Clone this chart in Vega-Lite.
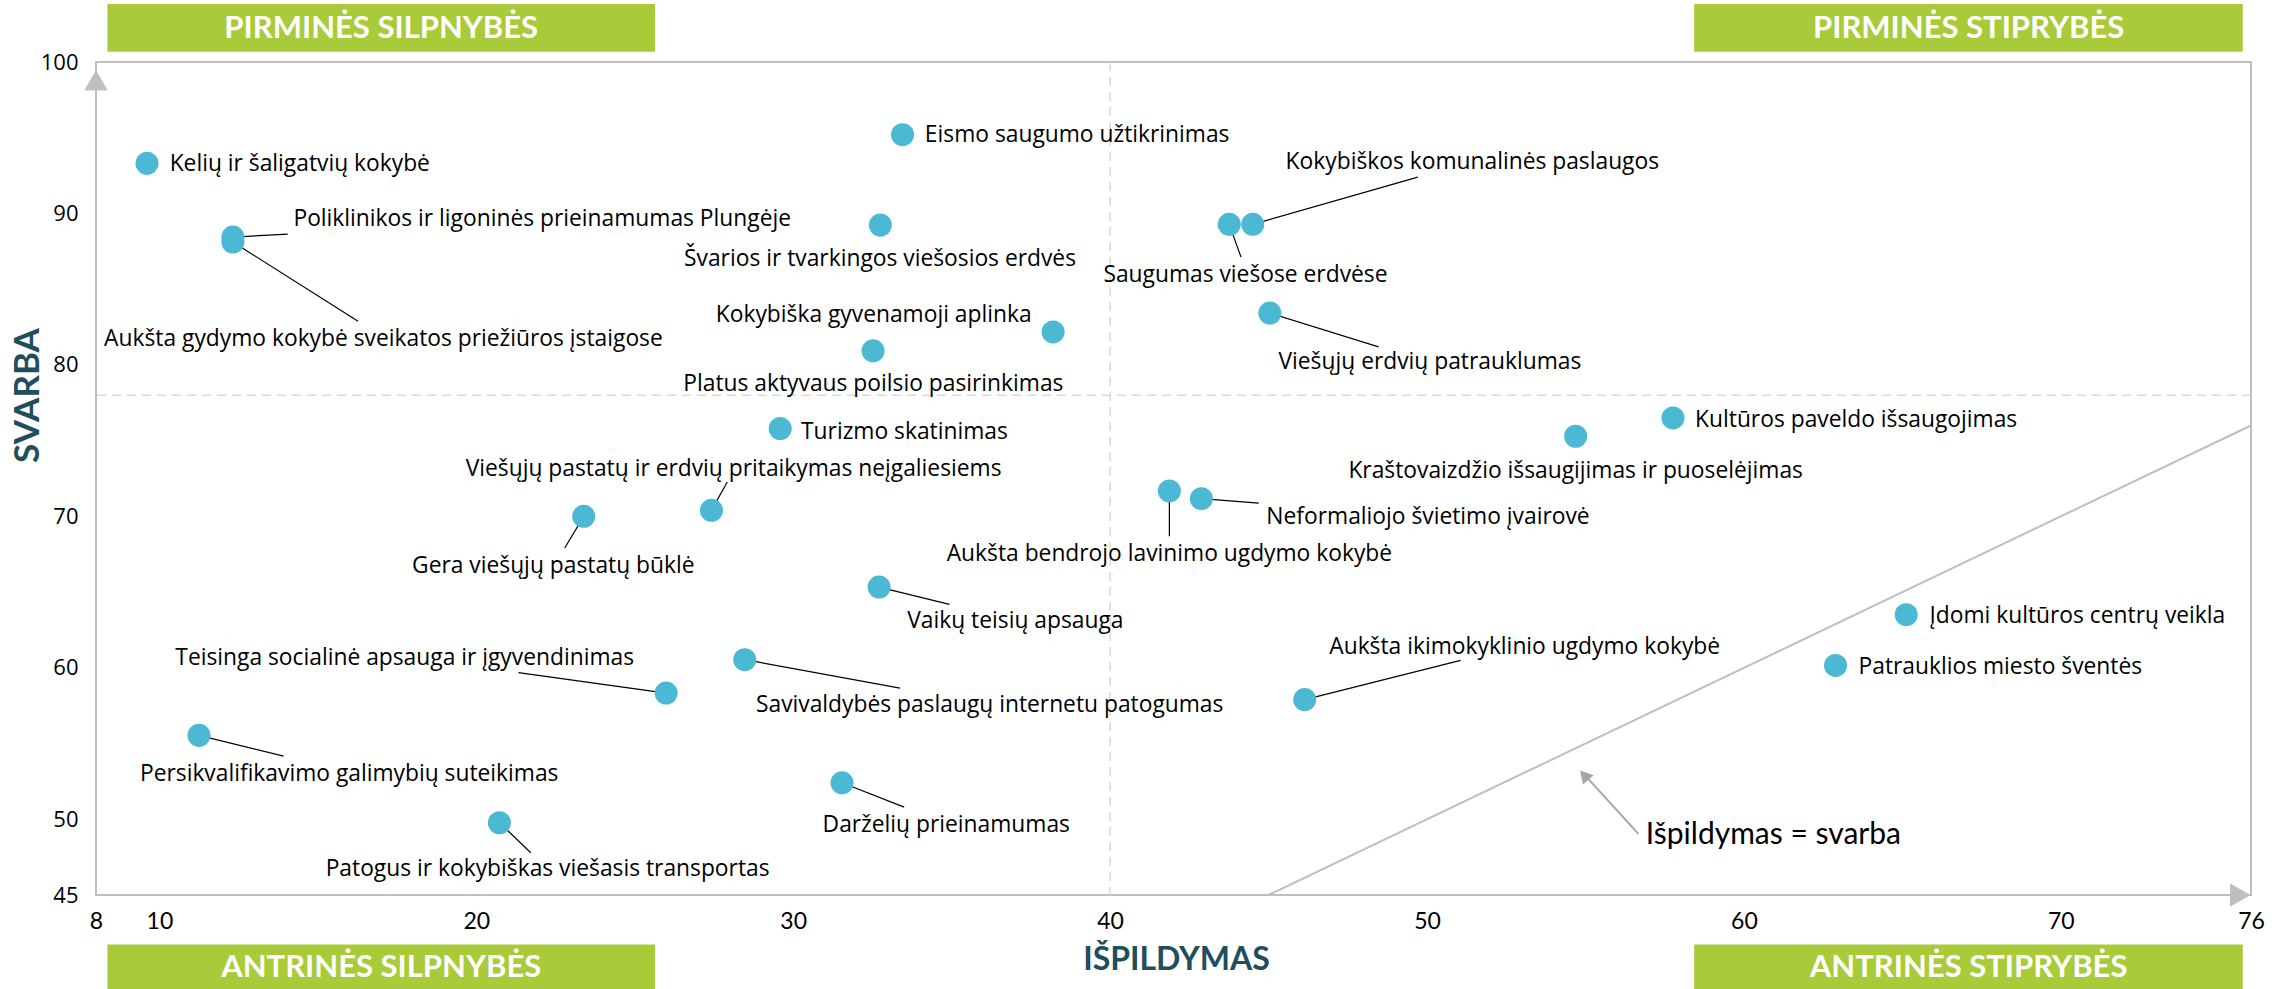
{
  "$schema": "https://vega.github.io/schema/vega-lite/v6.json",
  "width": 2155,
  "height": 833,
  "autosize": {"type": "none"},
  "padding": {"left": 96, "top": 62, "right": 39, "bottom": 94},
  "background": "white",
  "config": {
    "view": {"stroke": "#BFBFBF", "strokeWidth": 2},
    "axis": {"grid": false, "ticks": false, "domain": false}
  },
  "datasets": {
    "one": [{}],
    "pts": [
      {"name": "Kelių ir šaligatvių kokybė", "isp": 9.61, "sva": 93.31, "lx": 14.43, "ly": 93.29},
      {"name": "Poliklinikos ir ligoninės prieinamumas Plungėje", "isp": 12.32, "sva": 88.44, "lx": 22.08, "ly": 89.61, "ex": 14.05, "ey": 88.64},
      {"name": "Aukšta gydymo kokybė sveikatos priežiūros įstaigose", "isp": 12.32, "sva": 88.11, "lx": 17.07, "ly": 81.68, "ex": 16.27, "ey": 82.89},
      {"name": "Eismo saugumo užtikrinimas", "isp": 33.45, "sva": 95.2, "lx": 38.96, "ly": 95.18},
      {"name": "Švarios ir tvarkingos viešosios erdvės", "isp": 32.75, "sva": 89.23, "lx": 32.74, "ly": 87.01},
      {"name": "Kokybiškos komunalinės paslaugos", "isp": 44.5, "sva": 89.28, "lx": 51.43, "ly": 93.41, "ex": 49.71, "ey": 92.4},
      {"name": "Saugumas viešose erdvėse", "isp": 43.76, "sva": 89.28, "lx": 44.27, "ly": 85.93, "ex": 44.13, "ey": 87.12},
      {"name": "Viešųjų erdvių patrauklumas", "isp": 45.04, "sva": 83.42, "lx": 50.09, "ly": 80.2, "ex": 48.47, "ey": 81.19},
      {"name": "Kokybiška gyvenamoji aplinka", "isp": 38.2, "sva": 82.18, "lx": 32.54, "ly": 83.28},
      {"name": "Platus aktyvaus poilsio pasirinkimas", "isp": 32.52, "sva": 80.93, "lx": 32.53, "ly": 78.73},
      {"name": "Kultūros paveldo išsaugojimas", "isp": 57.76, "sva": 76.5, "lx": 63.54, "ly": 76.39},
      {"name": "Kraštovaizdžio išsaugijimas ir puoselėjimas", "isp": 54.69, "sva": 75.29, "lx": 54.69, "ly": 73.0},
      {"name": "Turizmo skatinimas", "isp": 29.59, "sva": 75.8, "lx": 33.51, "ly": 75.57},
      {"name": "Viešųjų pastatų ir erdvių pritaikymas neįgaliesiems", "isp": 27.42, "sva": 70.4, "lx": 28.12, "ly": 73.16, "ex": 27.92, "ey": 72.27},
      {"name": "Gera viešųjų pastatų būklė", "isp": 23.39, "sva": 70.0, "lx": 22.43, "ly": 66.7, "ex": 22.79, "ey": 67.91},
      {"name": "Aukšta bendrojo lavinimo ugdymo kokybė", "isp": 41.87, "sva": 71.68, "lx": 41.87, "ly": 67.5, "ex": 41.87, "ey": 68.68},
      {"name": "Neformaliojo švietimo įvairovė", "isp": 42.88, "sva": 71.17, "lx": 50.03, "ly": 69.96, "ex": 44.69, "ey": 70.88},
      {"name": "Vaikų teisių apsauga", "isp": 32.71, "sva": 65.33, "lx": 37.01, "ly": 63.09, "ex": 34.93, "ey": 64.19},
      {"name": "Įdomi kultūros centrų veikla", "isp": 65.12, "sva": 63.51, "lx": 70.52, "ly": 63.42},
      {"name": "Patrauklios miesto šventės", "isp": 62.89, "sva": 60.16, "lx": 68.09, "ly": 60.05},
      {"name": "Aukšta ikimokyklinio ugdymo kokybė", "isp": 46.14, "sva": 57.9, "lx": 53.08, "ly": 61.37, "ex": 51.06, "ey": 60.49},
      {"name": "Teisinga socialinė apsauga ir įgyvendinimas", "isp": 25.99, "sva": 58.33, "lx": 17.74, "ly": 60.67, "ex": 21.33, "ey": 59.68},
      {"name": "Savivaldybės paslaugų internetu patogumas", "isp": 28.47, "sva": 60.54, "lx": 36.2, "ly": 57.52, "ex": 33.37, "ey": 58.66},
      {"name": "Persikvalifikavimo galimybių suteikimas", "isp": 11.25, "sva": 55.54, "lx": 15.99, "ly": 53.01, "ex": 13.92, "ey": 54.17},
      {"name": "Darželių prieinamumas", "isp": 31.54, "sva": 52.41, "lx": 34.83, "ly": 49.59, "ex": 33.5, "ey": 50.8},
      {"name": "Patogus ir kokybiškas viešasis transportas", "isp": 20.73, "sva": 49.77, "lx": 22.25, "ly": 46.73, "ex": 21.72, "ey": 47.79}
    ],
    "boxes": [
      {"label": "PIRMINĖS SILPNYBĖS", "x1": 8.36, "x2": 25.64, "y1": 100.68, "y2": 103.83, "tx": 17.0, "ty": 102.15},
      {"label": "PIRMINĖS STIPRYBĖS", "x1": 58.43, "x2": 75.74, "y1": 100.68, "y2": 103.83, "tx": 67.09, "ty": 102.15},
      {"label": "ANTRINĖS SILPNYBĖS", "x1": 8.36, "x2": 25.64, "y1": 38.76, "y2": 41.73, "tx": 17.0, "ty": 40.2},
      {"label": "ANTRINĖS STIPRYBĖS", "x1": 58.43, "x2": 75.74, "y1": 38.76, "y2": 41.73, "tx": 67.09, "ty": 40.2}
    ]
  },
  "layer": [
    {
      "data": {"name": "one"},
      "mark": {"type": "rule", "color": "#D9D9D9", "strokeDash": [9, 6], "strokeWidth": 1.5},
      "encoding": {"x": {"datum": 40, "type": "quantitative"}}
    },
    {
      "data": {"name": "one"},
      "mark": {"type": "rule", "color": "#D9D9D9", "strokeDash": [9, 6], "strokeWidth": 1.5},
      "encoding": {"y": {"datum": 78, "type": "quantitative"}}
    },
    {
      "data": {"name": "one"},
      "mark": {"type": "rule", "color": "#BFBFBF", "strokeWidth": 2},
      "encoding": {
        "x": {"datum": 45, "type": "quantitative"},
        "y": {"datum": 45, "type": "quantitative"},
        "x2": {"datum": 76},
        "y2": {"datum": 76}
      }
    },
    {
      "data": {"name": "pts"},
      "transform": [{"filter": "isValid(datum.ex)"}],
      "mark": {"type": "rule", "color": "#000000", "strokeWidth": 1.2},
      "encoding": {
        "x": {"field": "isp", "type": "quantitative"},
        "y": {"field": "sva", "type": "quantitative"},
        "x2": {"field": "ex"},
        "y2": {"field": "ey"}
      }
    },
    {
      "data": {"name": "pts"},
      "mark": {"type": "circle", "size": 530, "color": "#4BB8D4", "opacity": 1},
      "encoding": {
        "x": {
          "field": "isp", "type": "quantitative",
          "scale": {"domain": [8, 76], "nice": false, "zero": false},
          "axis": {
            "values": [8, 10, 20, 30, 40, 50, 60, 70, 76],
            "labelFont": "Lato", "labelFontSize": 23, "labelColor": "#000000",
            "labelFlush": false, "labelOverlap": false,
            "labelBaseline": "middle", "labelPadding": 26,
            "title": "IŠPILDYMAS", "titleFont": "Lato", "titleFontWeight": "bold",
            "titleFontSize": 32, "titleColor": "#1F4E5C",
            "titleX": 1080, "titleY": 64, "titleAlign": "center", "titleBaseline": "middle"
          }
        },
        "y": {
          "field": "sva", "type": "quantitative",
          "scale": {"domain": [45, 100], "nice": false, "zero": false},
          "axis": {
            "values": [45, 50, 60, 70, 80, 90, 100],
            "labelFont": "Open Sans", "labelFontSize": 22, "labelColor": "#000000",
            "labelPadding": 18, "labelOverlap": false, "labelFlush": false,
            "title": "SVARBA", "titleFont": "Lato", "titleFontWeight": "bold",
            "titleFontSize": 35, "titleColor": "#1F4E5C",
            "titleX": -69, "titleY": 333, "titleAngle": 270,
            "titleAlign": "center", "titleBaseline": "middle"
          }
        }
      }
    },
    {
      "data": {"name": "pts"},
      "mark": {"type": "text", "font": "Open Sans", "fontSize": 22.8, "color": "#000000", "align": "center", "baseline": "middle"},
      "encoding": {
        "x": {"field": "lx", "type": "quantitative"},
        "y": {"field": "ly", "type": "quantitative"},
        "text": {"field": "name"}
      }
    },
    {
      "data": {"name": "one"},
      "mark": {"type": "point", "shape": "triangle-up", "filled": true, "size": 560, "color": "#BFBFBF", "opacity": 1},
      "encoding": {
        "x": {"datum": 8, "type": "quantitative"},
        "y": {"datum": 98.8, "type": "quantitative"}
      }
    },
    {
      "data": {"name": "one"},
      "mark": {"type": "point", "shape": "triangle-right", "filled": true, "size": 560, "color": "#BFBFBF", "opacity": 1},
      "encoding": {
        "x": {"datum": 75.66, "type": "quantitative"},
        "y": {"datum": 45, "type": "quantitative"}
      }
    },
    {
      "data": {"name": "one"},
      "mark": {"type": "rule", "color": "#A6A6A6", "strokeWidth": 2},
      "encoding": {
        "x": {"datum": 56.67, "type": "quantitative"},
        "y": {"datum": 49.04, "type": "quantitative"},
        "x2": {"datum": 54.9},
        "y2": {"datum": 53.1}
      }
    },
    {
      "data": {"name": "one"},
      "mark": {"type": "point", "shape": "triangle-up", "filled": true, "size": 200, "angle": 318.8, "color": "#A6A6A6", "opacity": 1},
      "encoding": {
        "x": {"datum": 54.96, "type": "quantitative"},
        "y": {"datum": 52.91, "type": "quantitative"}
      }
    },
    {
      "data": {"name": "one"},
      "mark": {"type": "text", "text": "Išpildymas = svarba", "font": "Lato", "fontSize": 30, "color": "#000000", "align": "center", "baseline": "middle"},
      "encoding": {
        "x": {"datum": 60.93, "type": "quantitative"},
        "y": {"datum": 48.93, "type": "quantitative"}
      }
    },
    {
      "data": {"name": "boxes"},
      "mark": {"type": "rect", "color": "#A9CB39", "opacity": 1},
      "encoding": {
        "x": {"field": "x1", "type": "quantitative"},
        "x2": {"field": "x2"},
        "y": {"field": "y1", "type": "quantitative"},
        "y2": {"field": "y2"}
      }
    },
    {
      "data": {"name": "boxes"},
      "mark": {"type": "text", "font": "Lato", "fontWeight": "bold", "fontSize": 31, "color": "#FFFFFF", "align": "center", "baseline": "middle"},
      "encoding": {
        "x": {"field": "tx", "type": "quantitative"},
        "y": {"field": "ty", "type": "quantitative"},
        "text": {"field": "label"}
      }
    }
  ]
}
